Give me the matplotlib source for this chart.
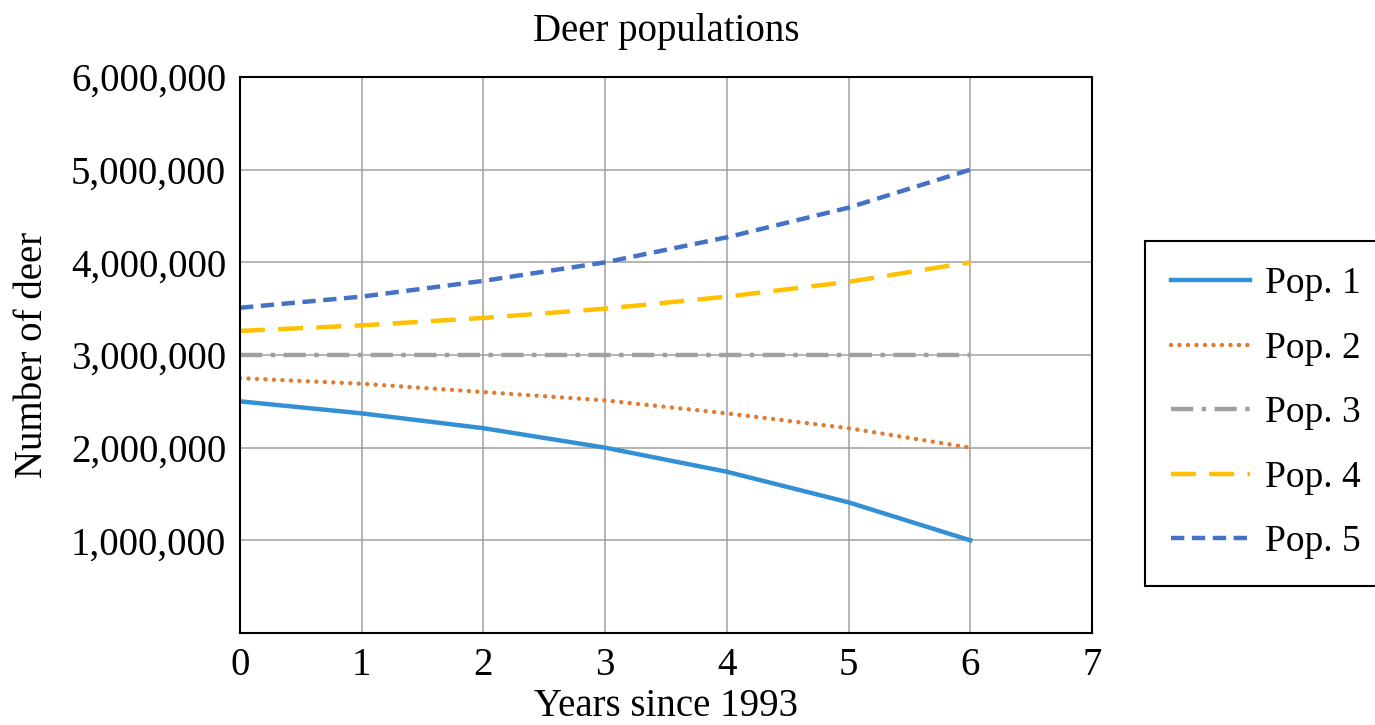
import matplotlib as mpl
import matplotlib.pyplot as plt
from matplotlib.ticker import FuncFormatter

mpl.rcParams.update({
    "font.family": "serif",
    "font.serif": ["Liberation Serif", "DejaVu Serif"],
    "font.size": 28,
})

years = [0, 1, 2, 3, 4, 5, 6]
pop1 = [2500000, 2370000, 2210000, 2000000, 1740000, 1410000, 1000000]
pop2 = [2750000, 2690000, 2600000, 2510000, 2370000, 2210000, 2000000]
pop3 = [3000000, 3000000, 3000000, 3000000, 3000000, 3000000, 3000000]
pop4 = [3260000, 3320000, 3400000, 3500000, 3630000, 3790000, 4000000]
pop5 = [3510000, 3630000, 3800000, 4000000, 4270000, 4590000, 5000000]
labels = ["Pop. 1", "Pop. 2", "Pop. 3", "Pop. 4", "Pop. 5"]

fig = plt.figure(figsize=(13.75, 7.25), dpi=100)
ax = fig.add_axes([240 / 1375, 92 / 725, 852 / 1375, 556 / 725])

lw = 3.2
ax.plot(years, pop1, color="#3390D4", lw=lw, label=labels[0])
ax.plot(years, pop2, color="#E07B32", lw=lw, linestyle=(0, (0.01, 1.9)),
        dash_capstyle="round", label=labels[1])
ax.plot(years, pop3, color="#A0A0A0", lw=lw, linestyle=(0, (5, 1.9, 1, 1.9)),
        label=labels[2])
ax.plot(years, pop4, color="#FFC000", lw=lw, linestyle=(0, (5.6, 3)),
        label=labels[3])
ax.plot(years, pop5, color="#4472C4", lw=lw, linestyle=(0, (3, 1.7)),
        label=labels[4])

ax.set_xlim(0, 7)
ax.set_ylim(0, 6000000)
ax.set_xticks(range(0, 8))
ax.set_yticks(range(1000000, 6000001, 1000000))
ax.yaxis.set_major_formatter(FuncFormatter(lambda v, p: f"{int(v):,}"))
ax.grid(True, color="#A0A0A0", lw=1.1)
ax.set_axisbelow(True)
ax.tick_params(length=0, pad=10)
for s in ax.spines.values():
    s.set_linewidth(1.5)

ax.set_title("Deer populations", fontsize=28, pad=26)
ax.set_xlabel("Years since 1993", labelpad=3)
ax.set_ylabel("Number of deer", labelpad=14)

leg = fig.legend(loc="center left", bbox_to_anchor=(1145 / 1375, 312 / 725),
                 borderaxespad=0, fontsize=27,
                 fancybox=False, edgecolor="black", framealpha=1,
                 handlelength=2.1, labelspacing=0.8, borderpad=0.7,
                 handletextpad=0.4)
leg.get_frame().set_linewidth(1.5)

fig.savefig("out.png", dpi=100)
